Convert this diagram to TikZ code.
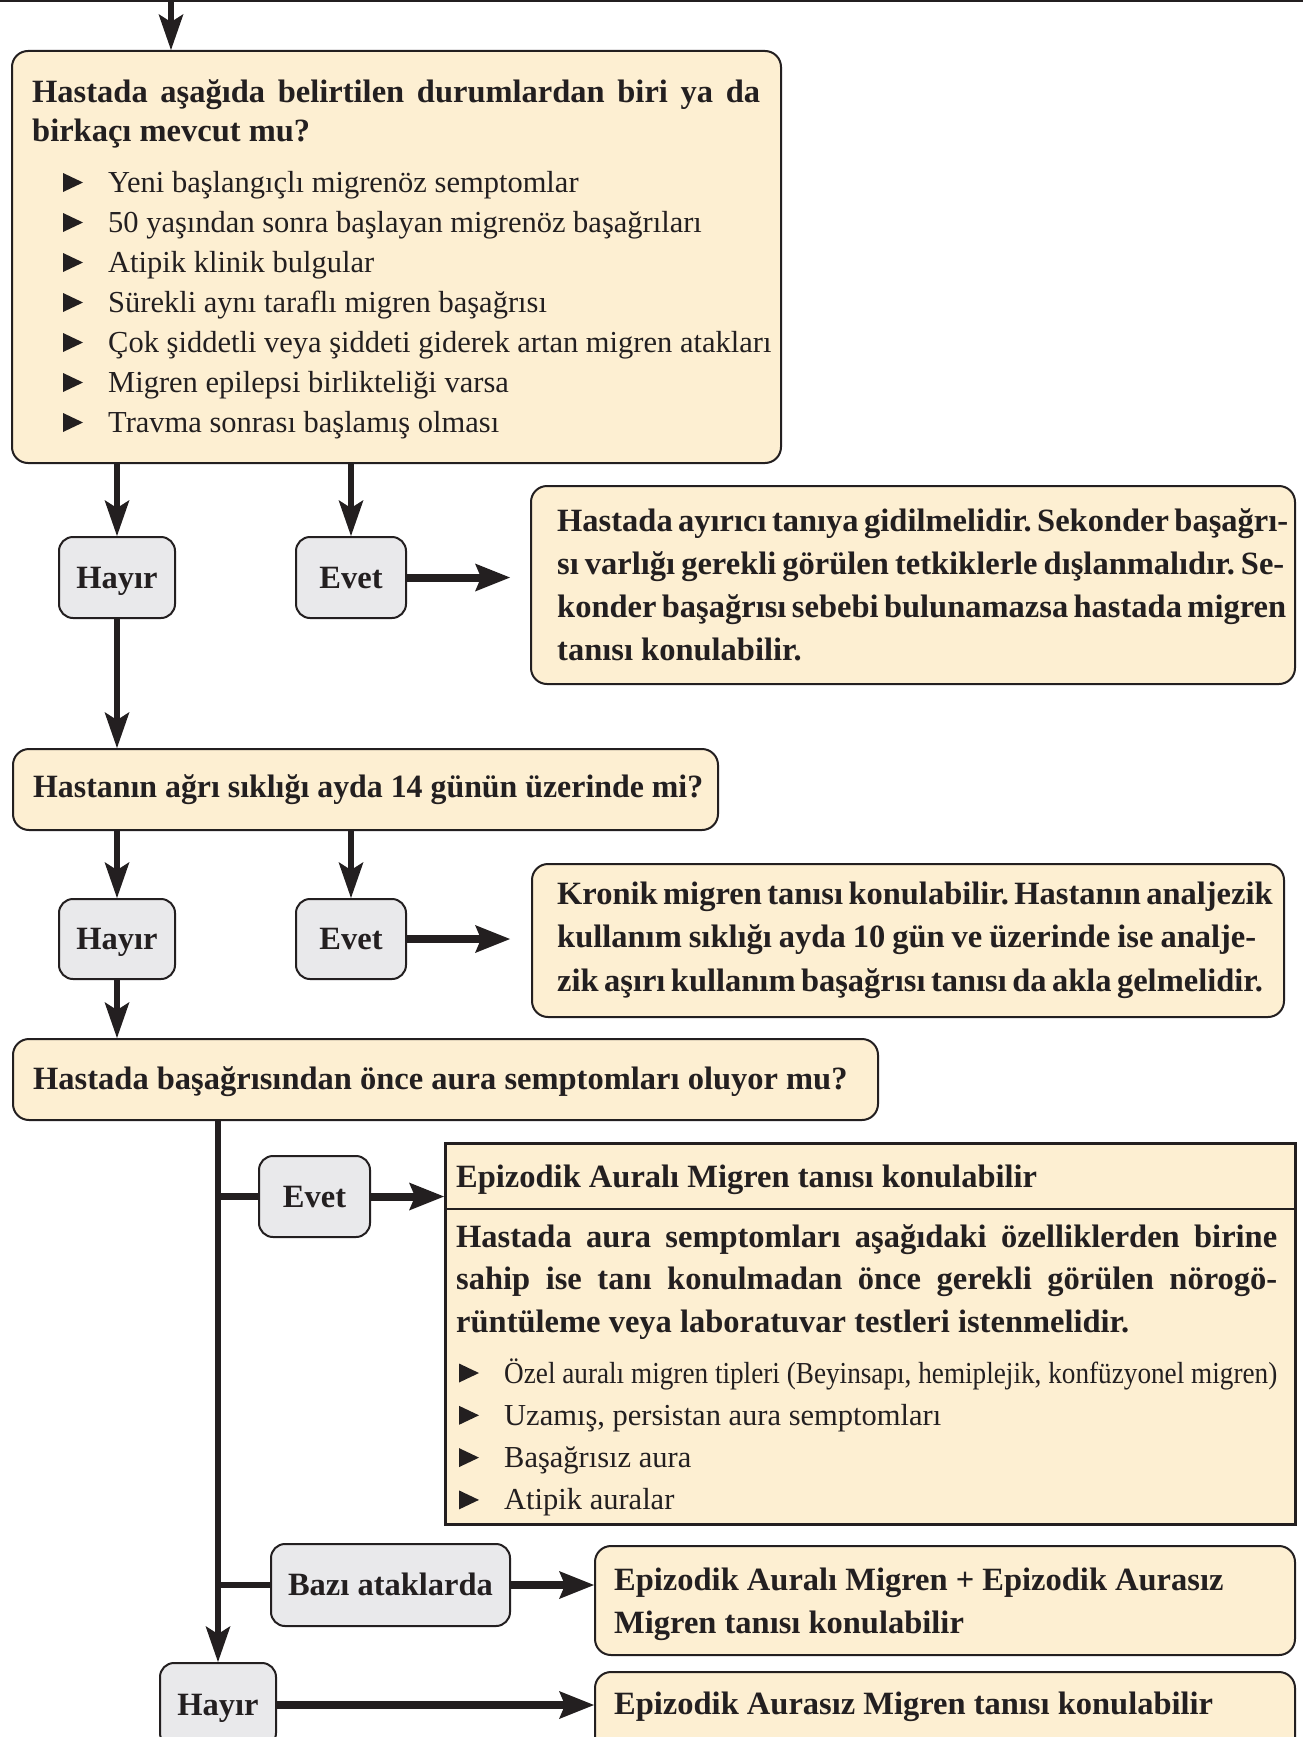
\documentclass[tikz,border=0pt]{standalone}
\usepackage{fontspec}
\setmainfont{Liberation Serif}
\usetikzlibrary{arrows.meta}
\definecolor{cream}{RGB}{253,239,210}
\definecolor{chipgray}{RGB}{233,233,235}
\definecolor{ink}{RGB}{35,31,32}
\frenchspacing
% justified line of given width, plain line, indented list lines
\newcommand{\jl}[2]{\strut\makebox[#1][s]{#2}}
\newcommand{\pl}[1]{\strut#1}
\newcommand{\bulA}[1]{\strut\hspace*{76pt}#1}
\newcommand{\bulB}[1]{\strut\hspace*{48pt}#1}
\begin{document}
\begin{tikzpicture}[x=1pt,y=-1pt,
  panel/.style={draw=ink, line width=2pt, fill=cream, rounded corners=16pt, inner sep=0pt, anchor=north west},
  sqpanel/.style={draw=ink, line width=2.5pt, fill=cream, inner sep=0pt, anchor=north west},
  chip/.style={draw=ink, line width=2pt, fill=chipgray, rounded corners=14pt, inner sep=0pt,
    font=\bfseries\fontsize{32.5}{36}\selectfont, text=ink, text height=21.5pt, text depth=0pt},
  txt/.style={inner sep=0pt, align=left, anchor=west, text=ink},
  bold/.style={font=\bfseries\fontsize{32.5}{#1}\selectfont},
  plain/.style={font=\fontsize{30.5}{#1}\selectfont},
  conn/.style={draw=ink, line width=6.5pt,
    -{Stealth[length=36pt,width=25pt,inset=8pt,line width=0pt]}},
  fat/.style={draw=ink, line width=8pt,
    -{Stealth[length=35pt,width=28pt,inset=6pt,line width=0pt]}},
  bar/.style={draw=ink, line width=6.5pt},
  pointer/.style={fill=ink}
]
\path[use as bounding box] (0,0) rectangle (1303,1737);
\clip (0,0) rectangle (1303,1737);
\fill[white] (0,0) rectangle (1303,1737);

% rule along the top edge
\coordinate (tl) at (0,1);
\coordinate (tr) at (1303,1);
\draw[ink, line width=2pt] (tl) -- (tr);
\coordinate (in) at (171,0);

% ---- first question
\node[panel, minimum width=769pt, minimum height=412pt] (b1) at (11,50) {};
\node[txt, bold=39] (t1a) at (32,114.5) {%
  \jl{728pt}{Hastada aşağıda belirtilen durumlardan biri ya da}\\
  \pl{birkaçı mevcut mu?}};
\node[txt, plain=40] (t1b) at (32,304) {%
  \bulA{Yeni başlangıçlı migrenöz semptomlar}\\
  \bulA{50 yaşından sonra başlayan migrenöz başağrıları}\\
  \bulA{Atipik klinik bulgular}\\
  \bulA{Sürekli aynı taraflı migren başağrısı}\\
  \bulA{Çok şiddetli veya şiddeti giderek artan migren atakları}\\
  \bulA{Migren epilepsi birlikteliği varsa}\\
  \bulA{Travma sonrası başlamış olması}};
\foreach \k in {0,...,6}
  \fill[pointer] (63,{173+40*\k}) -- (63,{192+40*\k}) -- (83,{182.5+40*\k}) -- cycle;

\node[chip, minimum width=116pt, minimum height=81pt] (hy1) at (117,577.5) {Hayır};
\node[chip, minimum width=110pt, minimum height=81pt] (ev1) at (351,577.5) {Evet};

\node[panel, minimum width=764pt, minimum height=198pt] (b2) at (530,485) {};
\node[txt, bold=43] (t2) at (557,587) {%
  \jl{727pt}{Hastada ayırıcı tanıya gidilmelidir. Sekonder başağrı-}\\
  \jl{727pt}{sı varlığı gerekli görülen tetkiklerle dışlanmalıdır. Se-}\\
  \jl{727pt}{konder başağrısı sebebi bulunamazsa hastada migren}\\
  \pl{tanısı konulabilir.}};

% ---- second question
\node[panel, minimum width=705pt, minimum height=81pt] (b3) at (12,748) {};
\node[txt, bold=40] (t3) at (33,789) {\pl{\resizebox{670pt}{\height}{Hastanın ağrı sıklığı ayda 14 günün üzerinde mi?}}};

\node[chip, minimum width=116pt, minimum height=80pt] (hy2) at (117,939) {Hayır};
\node[chip, minimum width=110pt, minimum height=80pt] (ev2) at (351,939) {Evet};

\node[panel, minimum width=752pt, minimum height=153pt] (b4) at (531,863) {};
\node[txt, bold=43.5] (t4) at (557,939) {%
  \jl{699pt}{Kronik migren tanısı konulabilir. Hastanın analjezik}\\
  \jl{699pt}{kullanım sıklığı ayda 10 gün ve üzerinde ise analje-}\\
  \jl{699pt}{zik aşırı kullanım başağrısı tanısı da akla gelmelidir.}};

% ---- third question
\node[panel, minimum width=865pt, minimum height=81pt] (b5) at (12,1038) {};
\node[txt, bold=40] (t5) at (33,1081) {\pl{Hastada başağrısından önce aura semptomları oluyor mu?}};

\node[chip, minimum width=111pt, minimum height=81pt] (ev3) at (314.5,1196.5) {Evet};
\node[chip, minimum width=239pt, minimum height=82pt] (bz) at (390.5,1585) {Bazı ataklarda};
\node[chip, minimum width=116pt, minimum height=84pt] (hy3) at (218,1705) {Hayır};

\node[sqpanel, minimum width=850pt, minimum height=381pt] (b6) at (444,1142) {};
\coordinate (s6l) at (444,1209);
\coordinate (s6r) at (1294,1209);
\draw[ink, line width=2.5pt] (s6l) -- (s6r);
\node[txt, bold=40] (t6h) at (456,1179) {\pl{Epizodik Auralı Migren tanısı konulabilir}};
\node[txt, bold=42.5] (t6b) at (456,1281) {%
  \jl{821pt}{Hastada aura semptomları aşağıdaki özelliklerden birine}\\
  \jl{821pt}{sahip ise tanı konulmadan önce gerekli görülen nörogö-}\\
  \pl{rüntüleme veya laboratuvar testleri istenmelidir.}};
\node[txt, plain=42.3] (t6l) at (456,1438) {%
  \bulB{\resizebox{773pt}{\height}{Özel auralı migren tipleri (Beyinsapı, hemiplejik, konfüzyonel migren)}}\\
  \bulB{Uzamış, persistan aura semptomları}\\
  \bulB{Başağrısız aura}\\
  \bulB{Atipik auralar}};
\foreach \k in {0,...,3}
  \fill[pointer] (459,{1363.5+42.3*\k}) -- (459,{1382.5+42.3*\k}) -- (479,{1373+42.3*\k}) -- cycle;

\node[panel, minimum width=700pt, minimum height=109pt] (b7) at (594,1545) {};
\node[txt, bold=43] (t7) at (614,1603) {%
  \pl{Epizodik Auralı Migren + Epizodik Aurasız}\\
  \pl{Migren tanısı konulabilir}};

\node[panel, minimum width=700pt, minimum height=100pt] (b8) at (594,1671) {};
\node[txt, bold=40] (t8) at (614,1706) {\pl{Epizodik Aurasız Migren tanısı konulabilir}};

% ---- connectors
\draw[conn] (in) -- (in |- b1.north);
\draw[conn] (hy1.north |- b1.south) -- (hy1.north);
\draw[conn] (ev1.north |- b1.south) -- (ev1.north);
\draw[fat, shorten >=20pt] (ev1.east) -- (ev1.east -| b2.west);
\draw[conn] (hy1.south) -- (hy1.south |- b3.north);
\draw[conn] (hy2.north |- b3.south) -- (hy2.north);
\draw[conn] (ev2.north |- b3.south) -- (ev2.north);
\draw[fat, shorten >=21pt] (ev2.east) -- (ev2.east -| b4.west);
\draw[conn] (hy2.south) -- (hy2.south |- b5.north);
\draw[conn] (hy3.north |- b5.south) -- (hy3.north);
\draw[bar] (hy3.north |- ev3.west) -- (ev3.west);
\draw[fat] (ev3.east) -- (ev3.east -| b6.west);
\draw[bar] (hy3.north |- bz.west) -- (bz.west);
\draw[fat] (bz.east) -- (bz.east -| b7.west);
\draw[fat] (hy3.east) -- (hy3.east -| b8.west);
\end{tikzpicture}
\end{document}
